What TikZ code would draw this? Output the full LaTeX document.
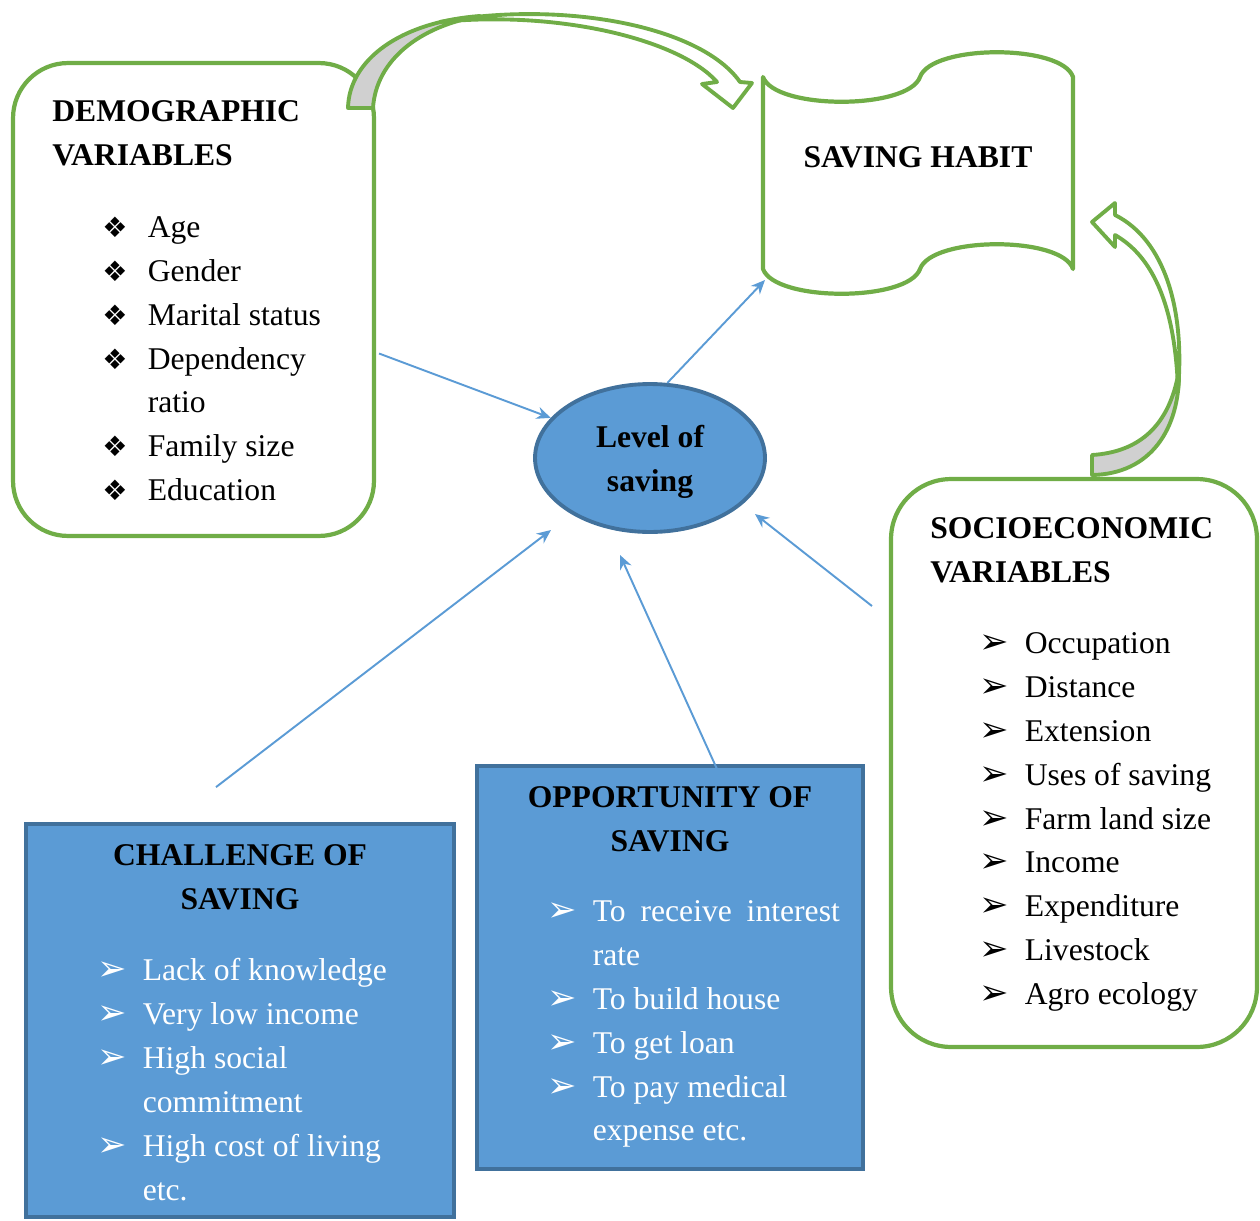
\documentclass[tikz,border=0pt]{standalone}
\usepackage{fontspec}
\setmainfont{Liberation Serif}
\newfontfamily\dingfont{DejaVu Sans}
\usetikzlibrary{arrows.meta, calc, shapes.geometric}

\definecolor{leafgreen}{HTML}{70AD47}
\definecolor{skyblue}{HTML}{5B9BD5}
\definecolor{steelrim}{HTML}{41719C}
\definecolor{backgray}{HTML}{D0D0D0}

\newcommand{\dia}{{\dingfont\fontsize{16}{16}\selectfont\char"2756}}
\newcommand{\arr}{{\dingfont\fontsize{20}{20}\selectfont\char"27A2}}
\newcommand{\itm}[2]{\makebox[0.91cm][l]{#1}#2}

\begin{document}
\begin{tikzpicture}[x=0.02cm, y=-0.02cm,
  greenbox/.style={draw=leafgreen, line width=2.4pt, rounded corners=1.1cm, inner sep=0pt},
  bluebox/.style={draw=steelrim, fill=skyblue, line width=2.2pt, inner sep=0pt},
  ribbon/.style={draw=leafgreen, line width=2.2pt, line join=round},
  link/.style={-{Stealth[length=8pt,width=7pt]}, draw=skyblue, line width=1.1pt},
  hd/.style={font=\fontsize{18}{25}\bfseries\selectfont, inner sep=0pt},
  lst/.style={font=\fontsize{18}{25}\selectfont, align=left, inner sep=0pt, anchor=north west}]
  \useasboundingbox (0,0) rectangle (1260,1220);

  % --- frames ---
  \node[greenbox, minimum width=7.22cm, minimum height=9.46cm] (demo) at (193.5,299.5) {};
  \node[greenbox, rounded corners=1.2cm, minimum width=7.32cm, minimum height=11.36cm] (socio) at (1074,763) {};
  \node[bluebox, minimum width=8.56cm, minimum height=7.86cm] (chal) at (240,1020.5) {};
  \node[bluebox, minimum width=7.72cm, minimum height=8.06cm] (opp) at (670,967.5) {};
  \node[ellipse, draw=steelrim, fill=skyblue, line width=2.2pt, minimum width=4.6cm,
        minimum height=2.96cm, inner sep=0pt, align=center, text depth=0pt,
        font=\fontsize{18}{25}\bfseries\selectfont]
        (level) at (650,458) {Level of\\saving};

  % --- saving habit wave ---
  \draw[leafgreen, line width=2.4pt, line join=round]
    (763,77) .. controls (775,110) and (908,110) .. (920,77)
    .. controls (932,44) and (1062,44) .. (1073,77) -- (1073,269)
    .. controls (1062,236) and (932,236) .. (920,269)
    .. controls (908,302) and (775,302) .. (763,269) -- cycle;
  \node[hd] (habit) at (918,157) {SAVING HABIT};

  % --- curved block arrows ---
  \filldraw[ribbon, fill=backgray] (348,108) .. controls (349,60) and (400,22) .. (480,16)
    .. controls (420,26) and (376,60) .. (373,108) -- cycle;
  \filldraw[ribbon, fill=white] (440,22) .. controls (560,0) and (700,25) .. (740,82)
    -- (752,83) -- (733,108) -- (702,84) -- (717,82)
    .. controls (680,40) and (560,10) .. (440,22) -- cycle;
  \filldraw[ribbon, fill=backgray] (1092,475) .. controls (1150,474) and (1180,430) .. (1179,370)
    .. controls (1170,425) and (1140,452) .. (1092,455) -- cycle;
  \filldraw[ribbon, fill=white] (1178,390) .. controls (1185,310) and (1165,240) .. (1115,215)
    -- (1115,203) -- (1092,222) -- (1115,247) -- (1115,235)
    .. controls (1150,255) and (1175,300) .. (1178,390) -- cycle;

  % --- connectors ---
  \draw[link] ($(demo.east)+(3,54)$) -- (level.158);
  \draw[link] (level.77) -- ($(habit)+(-153,123)$);
  \draw[link] ($(socio.west)+(-17,-157)$) -- ($(level)+(105,56)$);
  \draw[link] ($(chal.north)+(-24,-35)$) -- ($(level)+(-99,72)$);
  \draw[link] ($(opp.north)+(57,27)$) -- ($(level)+(-30,97)$);

  % --- texts ---
  \node[hd, align=left, anchor=north west] (demohd) at (52,100) {DEMOGRAPHIC\\VARIABLES};
  \node[lst] (demolist) at (102,216) {\itm{\dia}{Age}\\ \itm{\dia}{Gender}\\
    \itm{\dia}{Marital status}\\ \itm{\dia}{Dependency}\\ \itm{}{ratio}\\
    \itm{\dia}{Family size}\\ \itm{\dia}{Education}};
  \node[hd, align=left, anchor=north west] (sociohd) at (930,517) {SOCIOECONOMIC\\VARIABLES};
  \node[lst] (sociolist) at (979,632) {\itm{\arr}{Occupation}\\ \itm{\arr}{Distance}\\
    \itm{\arr}{Extension}\\ \itm{\arr}{Uses of saving}\\ \itm{\arr}{Farm land size}\\
    \itm{\arr}{Income}\\ \itm{\arr}{Expenditure}\\ \itm{\arr}{Livestock}\\ \itm{\arr}{Agro ecology}};
  \node[hd, align=center, anchor=north] (chalhd) at (240,844) {CHALLENGE OF\\SAVING};
  \node[lst, text=white] (challist) at (97,958) {\itm{\arr}{Lack of knowledge}\\
    \itm{\arr}{Very low income}\\ \itm{\arr}{High social}\\ \itm{}{commitment}\\
    \itm{\arr}{High cost of living}\\ \itm{}{etc.}};
  \node[hd, align=center, anchor=north] (opphd) at (670,786) {OPPORTUNITY OF\\SAVING};
  \node[lst, text=white] (opplist) at (547,900) {\itm{\arr}{\makebox[4.94cm][s]{To receive interest}}\\
    \itm{}{rate}\\ \itm{\arr}{To build house}\\ \itm{\arr}{To get loan}\\
    \itm{\arr}{To pay medical}\\ \itm{}{expense etc.}};
\end{tikzpicture}
\end{document}
